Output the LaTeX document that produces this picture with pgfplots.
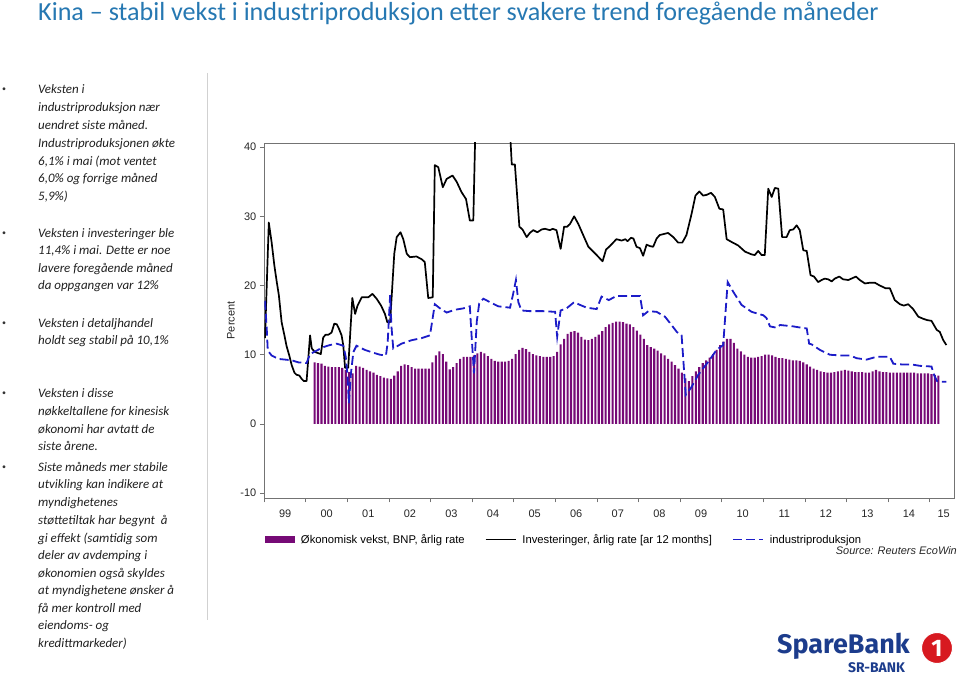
\documentclass[border=0pt]{standalone}
\usepackage{fontspec}
\setmainfont{Carlito}
\newfontfamily\arial{Liberation Sans}
\newfontfamily\logofont{Fira Sans}
\usepackage{pgfplots}
\pgfplotsset{compat=1.18}
\usepackage{pgfplotstable}
\definecolor{titleblue}{RGB}{38,120,178}
\definecolor{barpurple}{RGB}{118,10,118}
\definecolor{ipblue}{RGB}{28,28,200}
\definecolor{logoblue}{RGB}{28,60,140}
\definecolor{logored}{RGB}{215,25,32}

% GDP growth (quarterly, shown monthly), x = month index from Jan 1999
\pgfplotstableread{
m v
14.5 8.9
15.5 8.8
16.5 8.7
17.5 8.4
18.5 8.3
19.5 8.2
20.5 8.2
21.5 8.2
22.5 8.1
23.5 7.8
24.5 7.5
25.5 7.3
26.5 8.4
27.5 8.3
28.5 8.1
29.5 7.8
30.5 7.6
31.5 7.4
32.5 7.1
33.5 6.9
34.5 6.7
35.5 6.6
36.5 6.5
37.5 7.0
38.5 7.6
39.5 8.4
40.5 8.6
41.5 8.5
42.5 8.2
43.5 8.0
44.5 8.0
45.5 8.0
46.5 8.0
47.5 8.0
48.5 8.9
49.5 9.9
50.5 10.5
51.5 10.1
52.5 9.0
53.5 7.9
54.5 8.2
55.5 8.8
56.5 9.4
57.5 9.7
58.5 9.7
59.5 9.7
60.5 9.9
61.5 10.2
62.5 10.4
63.5 10.2
64.5 9.8
65.5 9.4
66.5 9.1
67.5 9.0
68.5 9.0
69.5 9.0
70.5 9.1
71.5 9.4
72.5 10.1
73.5 10.7
74.5 11.0
75.5 10.8
76.5 10.4
77.5 10.1
78.5 9.9
79.5 9.8
80.5 9.7
81.5 9.7
82.5 9.7
83.5 9.8
84.5 10.4
85.5 11.5
86.5 12.3
87.5 13.0
88.5 13.3
89.5 13.4
90.5 13.2
91.5 12.6
92.5 12.2
93.5 12.1
94.5 12.3
95.5 12.6
96.5 12.9
97.5 13.4
98.5 14.0
99.5 14.4
100.5 14.6
101.5 14.8
102.5 14.8
103.5 14.7
104.5 14.5
105.5 14.4
106.5 14.0
107.5 13.5
108.5 12.9
109.5 12.3
110.5 11.4
111.5 11.1
112.5 10.9
113.5 10.6
114.5 10.2
115.5 9.9
116.5 9.4
117.5 9.0
118.5 8.5
119.5 8.0
120.5 7.4
121.5 6.6
122.5 6.2
123.5 6.9
124.5 7.6
125.5 8.2
126.5 8.8
127.5 9.2
128.5 9.6
129.5 10.1
130.5 10.7
131.5 11.4
132.5 11.9
133.5 12.3
134.5 12.3
135.5 11.7
136.5 10.9
137.5 10.5
138.5 10.0
139.5 9.7
140.5 9.6
141.5 9.6
142.5 9.7
143.5 9.8
144.5 10.0
145.5 10.0
146.5 9.9
147.5 9.7
148.5 9.5
149.5 9.5
150.5 9.4
151.5 9.3
152.5 9.2
153.5 9.2
154.5 9.1
155.5 8.9
156.5 8.6
157.5 8.3
158.5 8.0
159.5 7.8
160.5 7.6
161.5 7.5
162.5 7.4
163.5 7.4
164.5 7.5
165.5 7.6
166.5 7.7
167.5 7.8
168.5 7.7
169.5 7.6
170.5 7.5
171.5 7.5
172.5 7.5
173.5 7.4
174.5 7.4
175.5 7.6
176.5 7.8
177.5 7.6
178.5 7.5
179.5 7.5
180.5 7.4
181.5 7.4
182.5 7.4
183.5 7.4
184.5 7.4
185.5 7.4
186.5 7.4
187.5 7.4
188.5 7.3
189.5 7.3
190.5 7.3
191.5 7.3
192.5 7.2
193.5 7.1
194.5 7.0
}\gdpdata

% Fixed asset investment, annual rate
\pgfplotstableread{
m v
0.2 12.4
1.3 29.1
2.1 26.3
2.9 22.9
3.6 20.5
4.2 18.6
5.0 14.7
5.8 12.8
6.4 11.3
7.2 9.9
7.9 8.5
8.7 7.4
9.3 7.1
10.1 7.0
10.8 6.5
11.4 6.2
12.2 6.2
13.2 12.8
13.7 10.9
14.6 10.4
16.3 10.1
17.0 12.5
17.7 12.9
18.5 12.9
19.4 13.2
20.2 14.5
20.9 14.4
21.5 13.8
22.3 12.8
22.8 11.3
23.3 8.1
24.2 8.1
25.4 18.2
26.2 15.9
26.9 17.1
28.1 18.3
30.0 18.3
31.2 18.8
32.4 18.1
33.7 17.1
34.8 15.9
35.5 14.7
36.3 14.7
37.5 24.6
38.2 27.0
39.3 27.7
40.1 26.7
41.1 24.6
42.0 24.1
43.9 24.2
45.4 23.8
46.3 23.4
47.3 18.2
48.6 18.3
49.2 37.4
50.2 37.1
51.5 34.2
52.6 35.4
54.3 35.9
55.5 35.0
56.9 33.5
58.2 32.5
59.3 29.4
60.3 29.4
61.0 45.0
63.0 50.0
66.0 53.0
69.0 49.0
70.3 48.0
71.4 37.5
72.3 37.5
73.6 28.5
74.5 28.1
75.7 27.0
76.6 27.6
77.6 28.0
78.8 27.7
80.0 28.1
81.0 28.2
82.4 28.0
83.2 28.2
84.3 28.0
85.5 25.3
86.5 28.5
87.4 28.5
88.2 28.9
89.4 30.0
90.6 28.9
92.0 27.3
93.5 25.6
94.9 24.9
95.9 24.4
97.6 23.5
98.6 25.2
99.7 25.7
101.6 26.7
103.1 26.5
104.2 26.7
104.8 26.4
105.8 26.9
106.5 26.8
107.4 25.6
108.4 25.4
109.3 24.3
110.3 25.9
111.3 25.7
112.2 25.6
113.2 26.8
114.1 27.3
116.5 27.6
118.0 27.0
119.4 26.2
120.6 26.2
121.8 27.3
123.3 30.4
124.4 33.0
125.5 33.6
126.6 33.0
127.6 33.1
128.9 33.4
130.0 32.8
131.3 31.1
132.4 31.0
133.4 26.7
134.8 26.3
136.7 25.8
138.7 24.9
140.6 24.5
141.5 24.4
142.5 25.0
143.5 24.4
144.4 24.4
145.4 34.0
146.4 32.8
147.3 34.1
148.3 34.0
149.4 27.0
150.7 27.0
151.6 28.0
152.6 28.1
153.6 28.7
154.5 28.0
155.5 25.1
156.5 25.0
157.6 21.5
158.6 21.3
159.8 20.5
160.8 20.8
161.7 21.0
162.7 20.9
163.7 20.6
164.6 21.0
165.9 21.3
167.0 20.9
168.5 20.8
169.4 21.0
170.7 21.3
171.8 20.8
173.3 20.3
174.7 20.4
176.2 20.4
177.6 20.0
179.3 19.6
180.5 19.6
181.9 17.9
183.4 17.3
184.5 17.1
185.8 17.3
187.2 16.6
188.7 15.5
190.1 15.2
191.3 15.0
192.5 14.9
194.0 13.6
194.9 13.3
195.9 12.1
196.8 11.4
}\investdata

% Industrial production
\pgfplotstableread{
m v
0.2 17.8
0.7 13.8
1.0 10.6
2.1 9.9
4.0 9.4
6.0 9.3
7.9 9.2
9.8 8.9
12.2 8.8
13.2 10.1
15.1 10.6
17.0 11.1
18.9 11.4
20.9 11.6
22.8 11.3
23.5 9.7
24.0 7.0
24.4 3.0
25.0 7.3
25.7 10.4
26.6 11.3
29.0 10.7
31.4 10.3
33.4 10.0
35.1 9.9
35.6 11.8
36.3 18.6
36.7 14.0
37.2 10.9
39.6 11.6
42.5 12.1
45.4 12.4
47.8 12.8
49.2 17.3
50.7 16.7
52.6 16.1
55.0 16.5
57.4 16.7
59.3 17.0
59.8 12.8
60.5 7.3
61.3 14.8
62.0 17.4
63.2 18.1
65.1 17.6
67.5 17.0
70.9 16.8
71.8 18.8
72.6 20.8
73.3 17.6
74.2 16.4
76.6 16.3
80.5 16.3
83.9 16.2
84.5 12.6
85.5 16.4
87.2 16.7
89.4 17.6
91.1 17.2
93.0 16.8
95.9 16.6
97.3 18.4
99.4 17.9
101.6 18.5
104.0 18.5
108.4 18.5
109.3 15.7
110.8 16.3
113.2 16.2
115.6 15.5
117.5 14.3
119.0 13.3
120.4 12.8
121.6 4.2
123.1 5.2
125.2 7.1
128.1 9.0
130.5 10.7
132.4 11.4
133.7 20.5
135.3 19.1
137.7 17.2
140.6 16.2
144.0 15.7
144.9 15.3
145.9 14.1
147.8 13.9
148.8 14.3
150.7 14.2
152.6 14.1
155.0 13.9
156.5 13.8
157.2 11.6
157.9 11.5
160.3 10.7
163.2 10.0
166.1 9.9
169.0 9.9
170.9 9.5
173.8 9.3
176.6 9.7
180.5 9.7
181.5 8.7
183.9 8.6
186.7 8.6
189.1 8.4
192.5 8.3
193.3 7.0
194.1 6.2
195.4 6.1
196.8 6.1
}\ipdata

\begin{document}
\begin{tikzpicture}[x=1bp,y=1bp]
\useasboundingbox (0,0) rectangle (960,681);
% title
\node[anchor=base west, inner sep=0pt, text=titleblue, font=\fontsize{26.2}{30}\selectfont] at (38,660) {Kina – stabil vekst i industriproduksjon etter svakere trend foregående måneder};
% separator
\draw[black!18, line width=1bp] (207,608) -- (207,61);
% bullets
\foreach \yb in {90,233.3,323.3,394,467.3}{
  \node[inner sep=0pt, text=black!80, font=\fontsize{8}{8}\selectfont] at (4,681-\yb) {•};
}
% left text
\foreach \yb/\t in {94/{Veksten i},
 111.7/{industriproduksjon nær},
 130/{uendret siste måned.},
 148/{Industriproduksjonen økte},
 165.7/{6,1\% i mai (mot ventet},
 183/{6,0\% og forrige måned},
 200.7/{5,9\%)},
 237.3/{Veksten i investeringer ble},
 254.7/{11,4\% i mai. Dette er noe},
 272.3/{lavere foregående måned},
 290/{da oppgangen var 12\%},
 327.3/{Veksten i detaljhandel},
 345/{holdt seg stabil på 10,1\%},
 398/{Veksten i disse},
 415.7/{nøkkeltallene for kinesisk},
 433.3/{økonomi har avtatt de},
 450.7/{siste årene.},
 471.3/{Siste måneds mer stabile},
 489/{utvikling kan indikere at},
 506.7/{myndighetenes},
 524.3/{støttetiltak har begynt\ \ å},
 542.3/{gi effekt (samtidig som},
 560/{deler av avdemping i},
 577.3/{økonomien også skyldes},
 595/{at myndighetene ønsker å},
 612.7/{få mer kontroll med},
 630/{eiendoms- og},
 648/{kredittmarkeder)}}{
  \node[anchor=base west, inner sep=0pt, text=black!88, font=\fontsize{13}{15}\selectfont\itshape] at (38,681-\yb) {\t};
}

\begin{axis}[
  at={(264.3bp,183bp)}, anchor=south west, scale only axis,
  width=689.7bp, height=355bp,
  xmin=0, xmax=199, ymin=-10.7, ymax=40.6,
  axis line style={draw=black!55, line width=0.8bp},
  tick style={draw=black!55, line width=0.8bp},
  tick align=outside, tick pos=left,
  major tick length=4.5bp,
  xtick={0,12,...,192}, xticklabels={},
  extra x ticks={6,18,30,42,54,66,78,90,102,114,126,138,150,162,174,186,196},
  extra x tick labels={99,00,01,02,03,04,05,06,07,08,09,10,11,12,13,14,15},
  extra x tick style={major tick length=0pt, xticklabel style={yshift=-8bp}},
  ytick={-10,0,10,20,30,40},
  yticklabels={-10,0,10,20,30,40},
  ticklabel style={font=\arial\fontsize{11}{12}\selectfont, text=black!85},
  /pgf/number format/assume math mode=true,
  ylabel={Percent},
  ylabel style={at={(axis description cs:-0.0483,0.5)}, anchor=center, font=\arial\fontsize{11}{12}\selectfont, text=black!85},
  legend style={at={(axis description cs:0,0)}, anchor=north west, xshift=0.5bp, yshift=-34bp,
     draw=none, fill=none, inner sep=0pt, font=\arial\fontsize{11.3}{13}\selectfont,
     /tikz/every odd column/.append style={column sep=4bp},
     /tikz/every even column/.append style={column sep=18bp}},
  legend columns=3, legend cell align=left,
]
\addplot[ybar, bar width=0.6, fill=barpurple, draw=none,
  legend image code/.code={\fill[barpurple] (0bp,-3.5bp) rectangle (30bp,3.5bp);}]
  table[x=m,y=v]{\gdpdata};
\addlegendentry{\strut Økonomisk vekst, BNP, årlig rate}
\addplot[black, line width=1.7bp, line join=round,
  legend image code/.code={\draw[black, line width=1.7bp] (0bp,0bp) -- (30bp,0bp);}]
  table[x=m,y=v]{\investdata};
\addlegendentry{\strut Investeringer, årlig rate [ar 12 months]}
\addplot[ipblue, line width=1.8bp, dash pattern=on 9bp off 4bp,
  legend image code/.code={\draw[ipblue, line width=1.8bp, dash pattern=on 9bp off 4bp] (0bp,0bp) -- (30bp,0bp);}]
  table[x=m,y=v]{\ipdata};
\addlegendentry{\strut industriproduksjon}
\end{axis}

% source
\node[anchor=base east, inner sep=0pt, font=\arial\itshape\fontsize{11}{12}\selectfont, text=black!85] at (957,681-555) {Source: Reuters EcoWin};

% logo
\node[anchor=base west, inner sep=0pt, text=logoblue, font=\logofont\bfseries\fontsize{27}{30}\selectfont] at (777,681-654) {SpareBank};
\node[anchor=base west, inner sep=0pt, text=logoblue, font=\logofont\bfseries\fontsize{14}{16}\selectfont] at (848,681-673) {SR-BANK};
\fill[logored, draw=white, line width=1bp] (937,681-648) circle (15.5);
\node[text=white, font=\logofont\bfseries\fontsize{24}{26}\selectfont, inner sep=0pt] at (937,681-648) {1};
\end{tikzpicture}
\end{document}
